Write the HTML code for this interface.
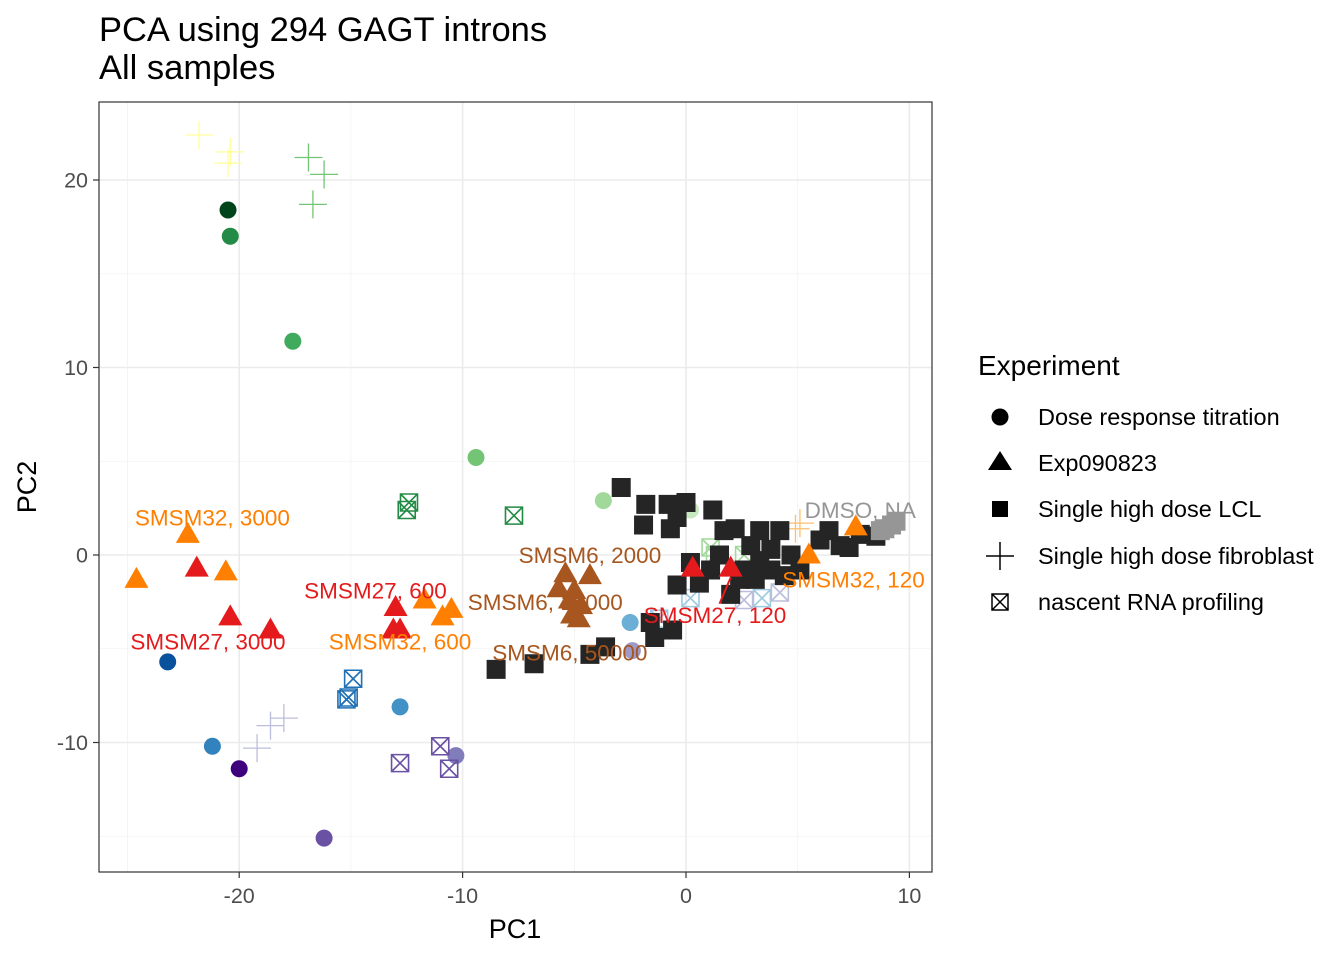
<!DOCTYPE html>
<html><head><meta charset="utf-8"><style>
body{margin:0;background:#fff;}
svg{display:block;font-family:"Liberation Sans",sans-serif;}
</style></head><body>
<svg id="chart" width="1344" height="960" viewBox="0 0 1344 960">
<rect width="1344" height="960" fill="#fff"/>
<text x="99" y="41" font-size="34.5" fill="#000">PCA using 294 GAGT introns</text>
<text x="99" y="79" font-size="34.5" fill="#000">All samples</text>
<g id="grid"></g>
<g id="marks"></g>
<g id="labels"></g>
<rect x="99" y="102" width="833" height="770" fill="none" stroke="#333" stroke-width="1.2"/>
<g id="axes"></g>
<text x="515" y="938" font-size="27" text-anchor="middle">PC1</text>
<text transform="translate(36,487) rotate(-90)" font-size="27" text-anchor="middle">PC2</text>
<g>
<text x="978" y="375" font-size="28">Experiment</text>
<g><circle cx="1000" cy="417" r="8.5" fill="#000"/><text x="1038" y="425" font-size="23.5">Dose response titration</text></g>
<g><polygon points="1000,451 1012,470 988,470" fill="#000"/><text x="1038" y="471" font-size="23.5">Exp090823</text></g>
<g><rect x="992" y="501" width="16" height="16" fill="#000"/><text x="1038" y="517" font-size="23.5">Single high dose LCL</text></g>
<g><path d="M986 556H1014M1000 542V570" stroke="#000" stroke-width="1.5"/><text x="1038" y="564" font-size="23.5">Single high dose fibroblast</text></g>
<g><path d="M992 594H1008V610H992ZM992 594L1008 610M1008 594L992 610" stroke="#000" stroke-width="1.5" fill="none"/><text x="1038" y="610" font-size="23.5">nascent RNA profiling</text></g>
</g>
</svg>
<script>
const xTicks=[-20,-10,0,10];
const yTicks=[-10,0,10,20];
const xMinor=[-25,-15,-5,5];
const yMinor=[-15,-5,5,15];
// circles: dose response titration
const circX=[-20.5,-20.4,-17.6,-9.4,-3.7,0.2,-23.2,-21.2,-20.0,-16.2,-10.3,-12.8,-2.5,-2.4];
const circY=[18.4,17.0,11.4,5.2,2.9,2.4,-5.7,-10.2,-11.4,-15.1,-10.7,-8.1,-3.6,-5.1];
const circC=["#00441b","#238b45","#41ab5d","#74c476","#a1d99b","#c7e9c0","#08519c","#3182bd","#3f007d","#6a51a3","#807dba","#4292c6","#6baed6","#9e9ac8"];
// plus: fibroblast
const plusX=[-21.8,-20.4,-20.5,-16.9,-16.2,-16.7,-19.2,-18.6,-18.0,5.1,4.9];
const plusY=[22.4,21.5,20.9,21.2,20.3,18.7,-10.3,-9.1,-8.7,1.7,1.4];
const plusC=["#ffff99","#ffff99","#ffff99","#74c476","#74c476","#74c476","#bcbddc","#bcbddc","#bcbddc","#fdbf6f","#fdbf6f"];
// crossed squares: nascent RNA
const nasX=[-12.4,-12.5,-7.7,-14.9,-15.1,-15.2,-12.8,-11.0,-10.6,1.1,1.3,2.6,0.2,3.4,-1.2,4.2,2.6];
const nasY=[2.8,2.4,2.1,-6.6,-7.6,-7.7,-11.1,-10.2,-11.4,0.4,0,0,-2.3,-2.3,-3.4,-2.0,-2.4];
const nasC=["#238b45","#238b45","#238b45","#2171b5","#2171b5","#2171b5","#6a51a3","#6a51a3","#6a51a3","#a1d99b","#a1d99b","#a1d99b","#9ecae1","#9ecae1","#9ecae1","#bcbddc","#bcbddc"];
// squares: LCL
const sqX=[-2.9,-1.8,-0.8,0,-1.9,-0.7,-0.4,1.2,2.2,3.3,4.2,2.9,3.8,4.7,6.0,6.9,7.8,8.5,6.4,0.2,1.1,-0.4,0.6,2.0,3.1,3.8,5.1,-1.6,-0.6,-1.4,-3.6,-4.3,-6.8,-8.5,1.5,2.6,3.3,4.4,7.3,1.7,2.4,8.7,9.2,8.9,9.4];
const sqY=[3.6,2.7,2.7,2.8,1.6,1.4,2.0,2.4,1.4,1.3,1.3,0.5,0.3,0,0.8,0.5,1.1,1.0,1.3,-0.4,-0.8,-1.6,-1.5,-2.1,-1.3,-0.8,-0.8,-3.6,-4.0,-4.4,-4.9,-5.3,-5.8,-6.1,0,-0.8,-0.3,-1.1,0.4,1.3,-1.3,1.3,1.6,1.4,1.8];
const sqC=["#252525","#252525","#252525","#252525","#252525","#252525","#252525","#252525","#252525","#252525","#252525","#252525","#252525","#252525","#252525","#252525","#252525","#252525","#252525","#252525","#252525","#252525","#252525","#252525","#252525","#252525","#252525","#252525","#252525","#252525","#252525","#252525","#252525","#252525","#252525","#252525","#252525","#252525","#252525","#252525","#252525","#969696","#969696","#969696","#969696"];
// triangles: Exp090823
const triX=[-24.6,-22.3,-20.6,-11.7,-10.5,-10.9,5.5,7.6,-21.9,-20.4,-18.6,-13.0,-13.1,-12.8,0.3,2.0,-5.4,-4.3,-5.0,-5.7,-4.7,-5.1,-4.8,-5.2];
const triY=[-1.3,1.1,-0.9,-2.4,-2.9,-3.3,0,1.5,-0.7,-3.3,-4.0,-2.8,-4.0,-4.0,-0.7,-0.7,-1.0,-1.1,-1.9,-1.8,-2.7,-3.2,-3.4,-2.4];
const triC=["#ff7f00","#ff7f00","#ff7f00","#ff7f00","#ff7f00","#ff7f00","#ff7f00","#ff7f00","#e41a1c","#e41a1c","#e41a1c","#e41a1c","#e41a1c","#e41a1c","#e41a1c","#e41a1c","#a6561e","#a6561e","#a6561e","#a6561e","#a6561e","#a6561e","#a6561e","#a6561e"];
// labels
const labText=["SMSM32, 3000","SMSM27, 3000","SMSM27, 600","SMSM32, 600","SMSM6, 2000","SMSM6, 10000","SMSM6, 50000","SMSM27, 120","SMSM32, 120","DMSO, NA"];
const labX=[-21.2,-21.4,-13.9,-12.8,-4.3,-6.3,-5.2,1.3,7.5,7.8];
const labY=[2.0,-4.6,-1.9,-4.6,0,-2.5,-5.2,-3.2,-1.3,2.4];
const labC=["#ff7f00","#e41a1c","#e41a1c","#ff7f00","#a6561e","#a6561e","#a6561e","#e41a1c","#ff7f00","#969696"];

const NS="http://www.w3.org/2000/svg";
const sx=v=>686+v*22.34;
const sy=v=>555-v*18.75;
function mk(tag,attrs,parent){const e=document.createElementNS(NS,tag);for(const k in attrs)e.setAttribute(k,attrs[k]);parent.appendChild(e);return e;}
const grid=document.getElementById('grid'),marks=document.getElementById('marks'),labels=document.getElementById('labels'),axes=document.getElementById('axes');
xMinor.forEach(v=>{const l=mk('line',{x1:sx(v),x2:sx(v),y1:102,y2:872,stroke:'#f2f2f2','stroke-width':0.8},grid);});
yMinor.forEach(v=>{const l=mk('line',{x1:99,x2:932,y1:sy(v),y2:sy(v),stroke:'#f2f2f2','stroke-width':0.8},grid);});
xTicks.forEach(v=>{
 const l=mk('line',{x1:sx(v),x2:sx(v),y1:102,y2:872,stroke:'#ebebeb','stroke-width':1.6},grid);
 
 const t=mk('line',{x1:sx(v),x2:sx(v),y1:872,y2:878,stroke:'#333','stroke-width':1.2},axes);
 
 const tx=mk('text',{x:sx(v),y:903,'font-size':21.5,'text-anchor':'middle',fill:'#4d4d4d'},axes);tx.textContent=v;
 
});
yTicks.forEach(v=>{
 const l=mk('line',{x1:99,x2:932,y1:sy(v),y2:sy(v),stroke:'#ebebeb','stroke-width':1.6},grid);
 
 const t=mk('line',{x1:93,x2:99,y1:sy(v),y2:sy(v),stroke:'#333','stroke-width':1.2},axes);
 
 const tx=mk('text',{x:88,y:sy(v)+7.5,'font-size':21.5,'text-anchor':'end',fill:'#4d4d4d'},axes);tx.textContent=v;
 
});
circX.forEach((v,i)=>{const e=mk('circle',{cx:sx(v),cy:sy(circY[i]),r:8.5,fill:circC[i]},marks);
 });
plusX.forEach((v,i)=>{const x=sx(v),y=sy(plusY[i]);const e=mk('path',{d:`M${x-14} ${y}H${x+14}M${x} ${y-14}V${y+14}`,stroke:plusC[i],'stroke-width':1.3,fill:'none'},marks);
 });
nasX.forEach((v,i)=>{const x=sx(v),y=sy(nasY[i]);const e=mk('path',{d:`M${x-8.5} ${y-8.5}H${x+8.5}V${y+8.5}H${x-8.5}ZM${x-8.5} ${y-8.5}L${x+8.5} ${y+8.5}M${x+8.5} ${y-8.5}L${x-8.5} ${y+8.5}`,stroke:nasC[i],'stroke-width':1.6,fill:'none'},marks);
 });
sqX.forEach((v,i)=>{const e=mk('rect',{x:sx(v)-9.5,y:sy(sqY[i])-9.5,width:19,height:19,fill:sqC[i]},marks);
 });
triX.forEach((v,i)=>{const x=sx(v),y=sy(triY[i]);const e=mk('polygon',{points:`${x},${y-12.5} ${x+12},${y+8.5} ${x-12},${y+8.5}`,fill:triC[i]},marks);
 });
const seg=mk('line',{x1:sx(1.5),y1:sy(-2.6),x2:sx(2.0),y2:sy(-1.2),stroke:'#e41a1c','stroke-width':2},labels);

labText.forEach((s,i)=>{const t=mk('text',{x:sx(labX[i]),y:sy(labY[i])+8,'font-size':22.5,'text-anchor':'middle',fill:labC[i]},labels);t.textContent=s;
 });
</script>
</body></html>
